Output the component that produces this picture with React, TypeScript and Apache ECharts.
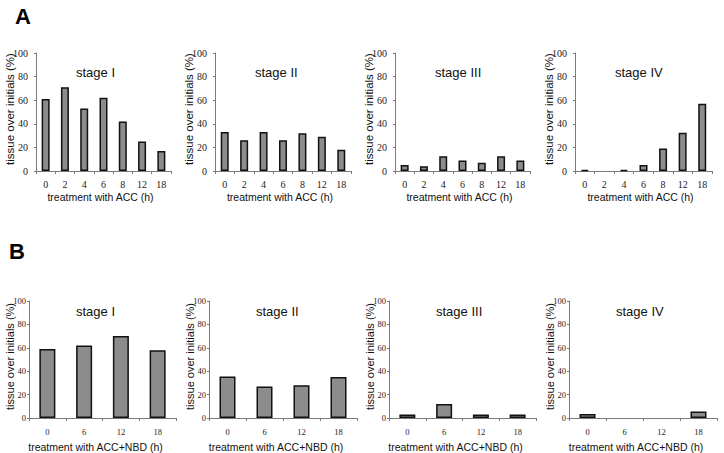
import React, { useEffect, useRef } from "react";
import * as echarts from "echarts";

const hoursAcc = ["0", "2", "4", "6", "8", "12", "18"];
const hoursNbd = ["0", "6", "12", "18"];
const stageNames = ["stage I", "stage II", "stage III", "stage IV"];

const accStageI = [61, 71, 53, 62, 42, 25, 17];
const accStageII = [33, 26, 33, 26, 32, 29, 18];
const accStageIII = [5, 4, 12.5, 9, 7, 12.5, 9];
const accStageIV = [1, 0, 1, 5, 19, 32.5, 57];

const nbdStageI = [59, 62, 70, 58];
const nbdStageII = [35.5, 27, 28, 35];
const nbdStageIII = [3, 12, 3, 3];
const nbdStageIV = [3.5, 0, 0, 5.5];

const yMin = 0;
const yMax = 100;
const yStep = 20;

const yTitle = "tissue over initials (%)";
const xTitleA = "treatment with ACC (h)";
const xTitleB = "treatment with ACC+NBD (h)";

const SERIF = "'Liberation Serif', 'Times New Roman', serif";
const SANS = "'Liberation Sans', Arial, sans-serif";

export default function App() {
  const ref = useRef<HTMLDivElement>(null);
  useEffect(() => {
    document.body.style.margin = "0";
    const chart = echarts.init(ref.current!, null, { renderer: "svg" });

    const panels = [
      { data: accStageI, cats: hoursAcc, left: 36, width: 135, top: 53, height: 118, row: 0 },
      { data: accStageII, cats: hoursAcc, left: 215, width: 136, top: 53, height: 118, row: 0 },
      { data: accStageIII, cats: hoursAcc, left: 395, width: 135, top: 53, height: 118, row: 0 },
      { data: accStageIV, cats: hoursAcc, left: 575, width: 137, top: 53, height: 118, row: 0 },
      { data: nbdStageI, cats: hoursNbd, left: 29, width: 147, top: 301, height: 117, row: 1 },
      { data: nbdStageII, cats: hoursNbd, left: 209, width: 148, top: 301, height: 117, row: 1 },
      { data: nbdStageIII, cats: hoursNbd, left: 389, width: 147, top: 301, height: 117, row: 1 },
      { data: nbdStageIV, cats: hoursNbd, left: 569, width: 148, top: 301, height: 117, row: 1 },
    ];

    const axisColor = "#7a7a7a";
    const grid: any[] = [];
    const xAxis: any[] = [];
    const yAxis: any[] = [];
    const series: any[] = [];
    const graphic: any[] = [];

    panels.forEach((p, i) => {
      const isA = p.row === 0;
      grid.push({ left: p.left, top: p.top, width: p.width, height: p.height, containLabel: false });
      xAxis.push({
        type: "category",
        gridIndex: i,
        data: p.cats,
        boundaryGap: true,
        axisLine: { lineStyle: { color: axisColor, width: 1 } },
        axisTick: { show: true, length: 3, lineStyle: { color: axisColor } },
        axisLabel: {
          color: "#222",
          fontFamily: SERIF,
          fontSize: isA ? 10 : 8.5,
          margin: isA ? 8 : 9,
        },
      });
      yAxis.push({
        type: "value",
        gridIndex: i,
        min: yMin,
        max: yMax,
        interval: yStep,
        splitLine: { show: false },
        axisLine: { show: true, lineStyle: { color: axisColor, width: 1 } },
        axisTick: { show: true, length: 2, lineStyle: { color: axisColor } },
        axisLabel: {
          color: "#222",
          fontFamily: SERIF,
          fontSize: isA ? 10 : 8.5,
          margin: isA ? 8 : 3,
        },
      });
      series.push({
        type: "bar",
        xAxisIndex: i,
        yAxisIndex: i,
        data: p.data.map((v) =>
          v === 0 ? { value: v, itemStyle: { borderWidth: 0, color: "transparent" } } : v
        ),
        barWidth: isA ? 8 : 16,
        itemStyle: { color: "#8c8c8c", borderColor: "#111", borderWidth: 1.5 },
      });

      const stageIdx = i % 4;
      graphic.push({
        type: "text",
        x: p.left + (isA ? 40 : 47),
        y: isA ? 72 : 311,
        style: {
          text: stageNames[stageIdx],
          fontFamily: SANS,
          fontSize: 13,
          fill: "#111",
          textAlign: "left",
          textVerticalAlign: "middle",
        },
      });
      graphic.push({
        type: "text",
        x: p.left - (isA ? 26 : 19),
        y: p.top + p.height / 2 - 3,
        rotation: Math.PI / 2,
        style: {
          text: yTitle,
          fontFamily: SANS,
          fontSize: isA ? 11.5 : 11,
          fill: "#111",
          textAlign: "center",
          textVerticalAlign: "middle",
        },
      });
      graphic.push({
        type: "text",
        x: p.left + p.width / 2 - (isA ? 3 : 7),
        y: isA ? 197 : 447,
        style: {
          text: isA ? xTitleA : xTitleB,
          fontFamily: SANS,
          fontSize: 10.5,
          fill: "#111",
          textAlign: "center",
          textVerticalAlign: "middle",
        },
      });
    });

    graphic.push({
      type: "text",
      x: 23,
      y: 16,
      style: { text: "A", fontFamily: SANS, fontWeight: "bold", fontSize: 22, fill: "#000", textAlign: "center", textVerticalAlign: "middle" },
    });
    graphic.push({
      type: "text",
      x: 17,
      y: 251,
      style: { text: "B", fontFamily: SANS, fontWeight: "bold", fontSize: 22, fill: "#000", textAlign: "center", textVerticalAlign: "middle" },
    });

    chart.setOption({
      animation: false,
      backgroundColor: "#ffffff",
      grid,
      xAxis,
      yAxis,
      series,
      graphic,
    });
    return () => chart.dispose();
  }, []);
  return <div ref={ref} style={{ width: 724, height: 453 }} />;
}
